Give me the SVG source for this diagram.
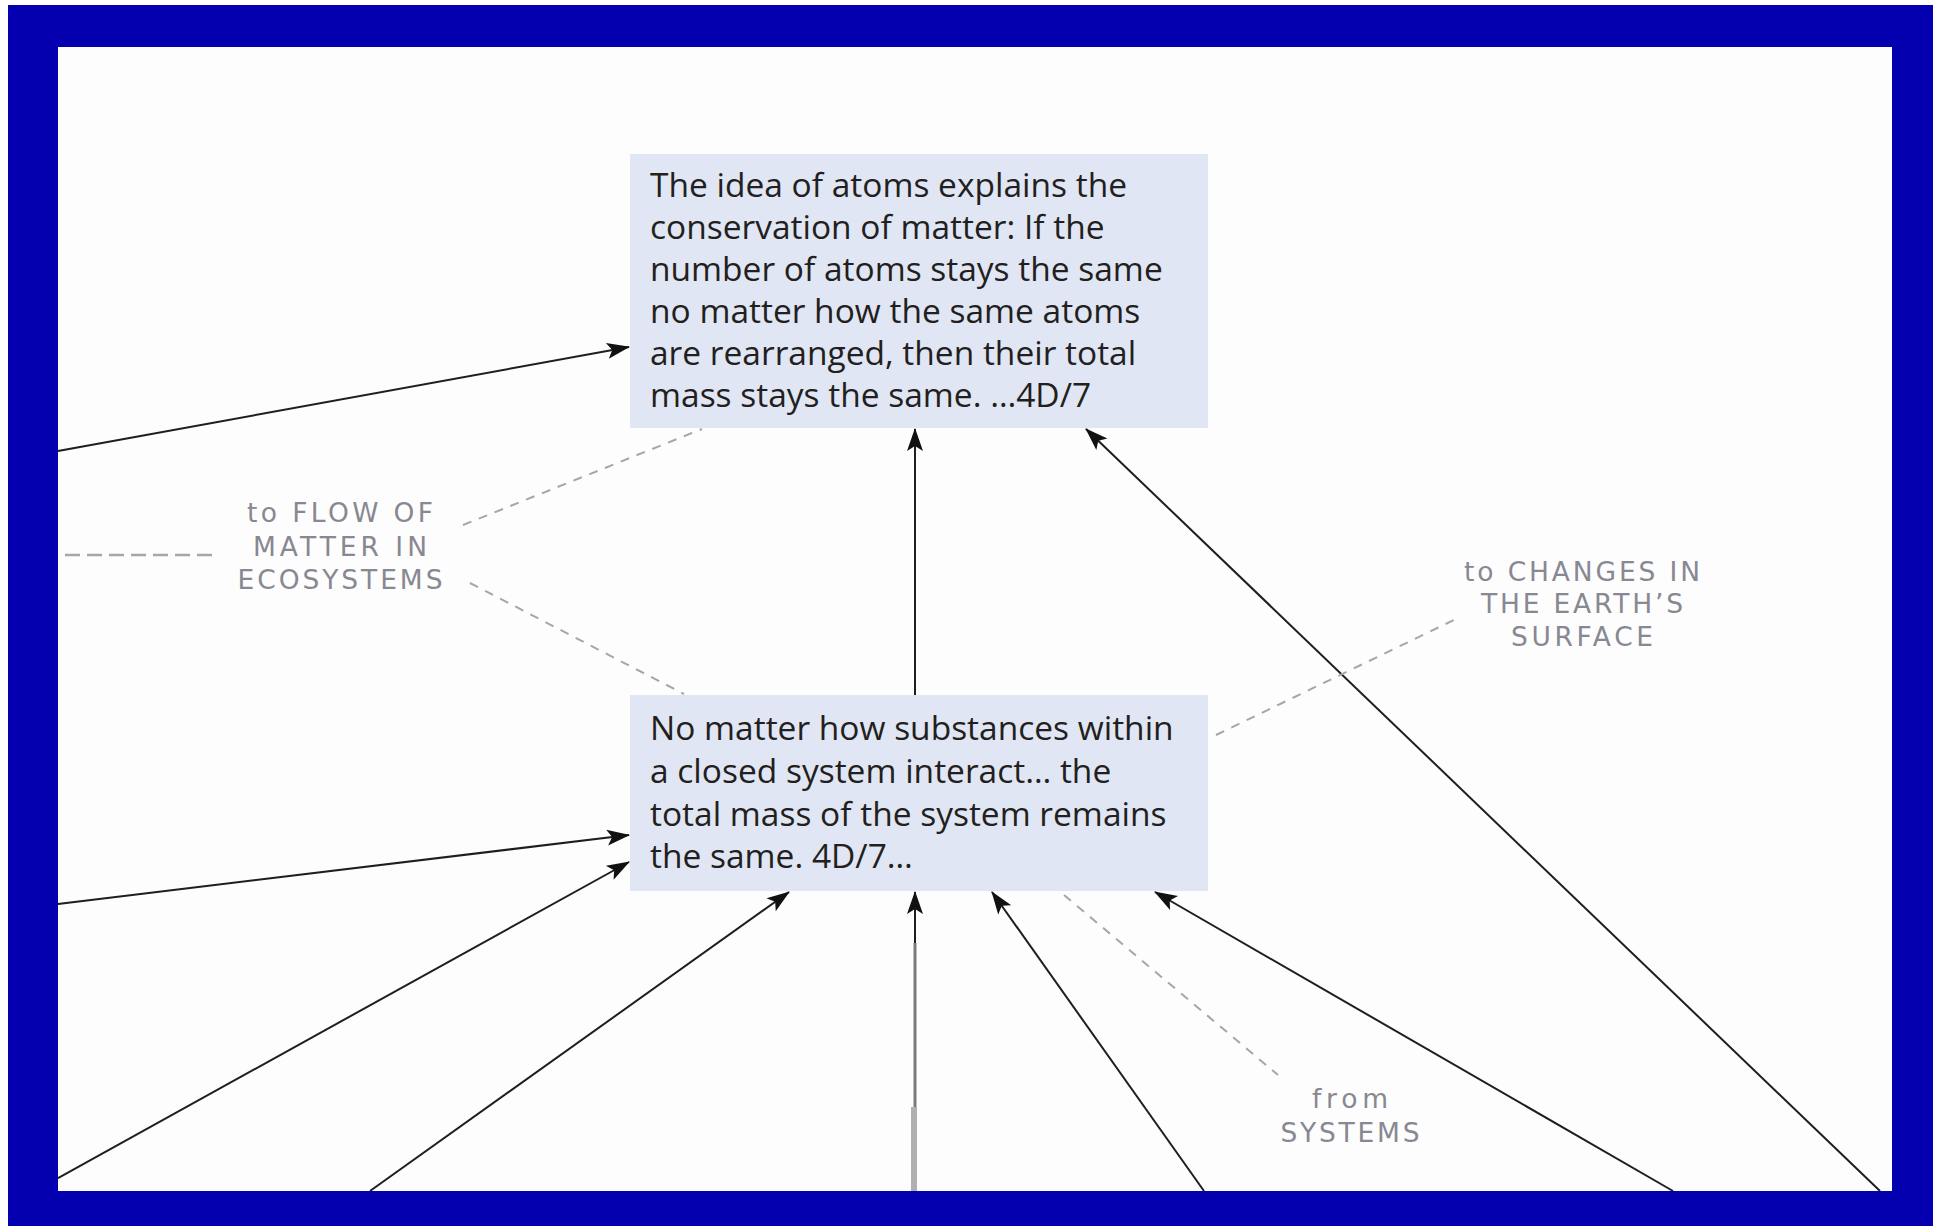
<svg xmlns="http://www.w3.org/2000/svg" width="1933" height="1226" viewBox="0 0 1933 1226">
<defs>
<style>
.box{fill:#E0E6F3;}
.bt{font-family:"Open Sans","Liberation Sans",sans-serif;font-size:33.5px;fill:#231F20;}
.lbl{font-family:"DejaVu Sans","Open Sans",sans-serif;font-size:26.5px;fill:#888892;text-anchor:middle;}
.ln{stroke:#1E1E1E;stroke-width:2;fill:none;}
.arr{marker-end:url(#ah);}
.dash{stroke:#A6A6A6;stroke-width:2;fill:none;stroke-dasharray:9 8;}
.dashh{stroke:#A6A6A6;stroke-width:2.5;fill:none;stroke-dasharray:15 7;}
</style>
<marker id="ah" markerUnits="userSpaceOnUse" markerWidth="30" markerHeight="24" viewBox="-24 -12 26 24" refX="0" refY="0" orient="auto">
<path d="M1,0 L-22,-8 L-17,0 L-22,8 Z" fill="#111"/>
</marker>
</defs>
<rect x="0" y="0" width="1933" height="1226" fill="#ffffff"/>
<rect x="8" y="5" width="1925" height="1221" fill="#0500AF"/>
<rect x="58" y="47" width="1834" height="1144" fill="#FDFDFD"/>

<g id="connectors">
<line class="ln arr" x1="58" y1="451" x2="629" y2="347"/>
<line class="ln arr" x1="915" y1="695" x2="915" y2="429"/>
<line class="ln arr" x1="1880" y1="1191" x2="1086" y2="429"/>
<line class="ln arr" x1="58" y1="904" x2="629" y2="835"/>
<line class="ln arr" x1="58" y1="1178" x2="629" y2="862"/>
<line class="ln arr" x1="370" y1="1191" x2="789" y2="892"/>
<g id="vertical-lower">
<line x1="914" y1="1191" x2="914" y2="1107" stroke="#B0B0B0" stroke-width="6"/>
<line x1="915" y1="1107" x2="915" y2="943" stroke="#7A7A7A" stroke-width="3"/>
<line class="ln arr" x1="915" y1="943" x2="915" y2="892" stroke-width="3"/>
</g>
<line class="ln arr" x1="1204" y1="1191" x2="992" y2="892"/>
<line class="ln arr" x1="1673" y1="1191" x2="1155" y2="892"/>
<line class="dashh" x1="65" y1="555" x2="216" y2="555"/>
<line class="dash" x1="463" y1="525" x2="702" y2="429"/>
<line class="dash" x1="470" y1="583" x2="684" y2="694"/>
<line class="dash" x1="1216" y1="735" x2="1458" y2="618"/>
<line class="dash" x1="1064" y1="895" x2="1278" y2="1075"/>
</g>

<g id="node-atoms">
<rect class="box" x="630" y="154" width="578" height="274"/>
<text class="bt">
<tspan x="650" y="197">The idea of atoms explains the</tspan>
<tspan x="650" y="239">conservation of matter: If the</tspan>
<tspan x="650" y="281">number of atoms stays the same</tspan>
<tspan x="650" y="323">no matter how the same atoms</tspan>
<tspan x="650" y="365">are rearranged, then their total</tspan>
<tspan x="650" y="407">mass stays the same. …4D/7</tspan>
</text>
</g>

<g id="node-mass">
<rect class="box" x="630" y="695" width="578" height="196"/>
<text class="bt">
<tspan x="650" y="740">No matter how substances within</tspan>
<tspan x="650" y="783">a closed system interact… the</tspan>
<tspan x="650" y="826">total mass of the system remains</tspan>
<tspan x="650" y="868">the same. 4D/7…</tspan>
</text>
</g>

<g id="label-flow">
<text class="lbl" x="340" y="522" textLength="186" lengthAdjust="spacing">to FLOW OF</text>
<text class="lbl" x="340" y="556" textLength="174" lengthAdjust="spacing">MATTER IN</text>
<text class="lbl" x="340" y="589" textLength="205" lengthAdjust="spacing">ECOSYSTEMS</text>
</g>

<g id="label-earth">
<text class="lbl" x="1582" y="581" textLength="236" lengthAdjust="spacing">to CHANGES IN</text>
<text class="lbl" x="1582" y="613" textLength="202" lengthAdjust="spacing">THE EARTH’S</text>
<text class="lbl" x="1582" y="646" textLength="142" lengthAdjust="spacing">SURFACE</text>
</g>

<g id="label-systems">
<text class="lbl" x="1350" y="1108" textLength="76" lengthAdjust="spacing">from</text>
<text class="lbl" x="1350" y="1142" textLength="139" lengthAdjust="spacing">SYSTEMS</text>
</g>
</svg>
